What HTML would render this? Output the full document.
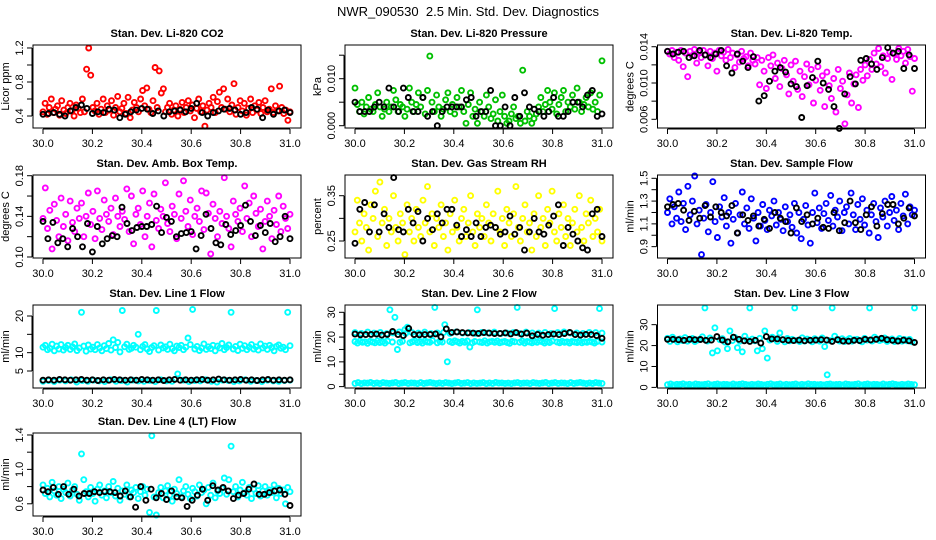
<!DOCTYPE html>
<html><head><meta charset="utf-8"><style>
body{margin:0;background:#fff;}
svg{display:block;font-family:"Liberation Sans",sans-serif;}
</style></head><body>
<svg id="chart" width="936" height="540" viewBox="0 0 936 540" xmlns="http://www.w3.org/2000/svg">
<rect width="936" height="540" fill="#fff"/>
<text x="468" y="16" text-anchor="middle" font-size="13">NWR_090530 &#160;2.5 Min. Std. Dev. Diagnostics</text>
</svg>
<script>
const xTicks=[30.0,30.2,30.4,30.6,30.8,31.0];
const co2Red=[0.45,0.55,0.42,0.5,0.6,0.44,0.48,0.52,0.41,0.58,0.47,0.43,0.5,0.55,0.46,0.4,0.53,0.49,0.44,0.6,0.45,0.95,1.2,0.88,0.5,0.46,0.55,0.42,0.48,0.6,0.44,0.52,0.47,0.58,0.41,0.5,0.63,0.45,0.49,0.55,0.43,0.62,0.38,0.47,0.56,0.5,0.45,0.6,0.7,0.52,0.73,0.48,0.44,0.58,0.97,0.5,0.93,0.67,0.72,0.45,0.5,0.55,0.42,0.47,0.52,0.4,0.48,0.56,0.44,0.5,0.58,0.46,0.53,0.38,0.49,0.6,0.45,0.52,0.28,0.47,0.55,0.5,0.62,0.44,0.57,0.68,0.5,0.72,0.48,0.6,0.45,0.53,0.78,0.42,0.5,0.58,0.46,0.55,0.41,0.49,0.6,0.44,0.52,0.47,0.56,0.43,0.5,0.58,0.45,0.48,0.72,0.44,0.52,0.46,0.75,0.5,0.43,0.47,0.35,0.45];
const co2Black=[0.42,0.43,0.44,0.42,0.4,0.46,0.5,0.53,0.49,0.43,0.45,0.44,0.48,0.47,0.38,0.42,0.45,0.47,0.49,0.48,0.43,0.46,0.4,0.45,0.46,0.47,0.45,0.49,0.55,0.44,0.4,0.44,0.46,0.48,0.49,0.47,0.42,0.44,0.5,0.48,0.38,0.47,0.42,0.46,0.47,0.44];
const presGreen=[0.008,0.0045,0.003,0.005,0.0025,0.004,0.006,0.0035,0.003,0.0045,0.007,0.004,0.002,0.0035,0.005,0.003,0.004,0.0075,0.0055,0.003,0.0045,0.004,0.002,0.0035,0.008,0.005,0.003,0.0045,0.007,0.004,0.006,0.0025,0.0075,0.0148,0.005,0.003,0.0065,0.004,0.002,0.0035,0.0055,0.007,0.003,0.0045,0.0025,0.006,0.004,0.0075,0.003,0.0005,0.0045,0.007,0.002,0.0035,0.0005,0.005,0.003,0.002,0.0065,0.004,0.0015,0.0025,0.0055,0.001,0.003,0.0065,0.002,0.0005,0.001,0.0025,0.004,0.0015,0.002,0.0005,0.0118,0.001,0.003,0.002,0.0005,0.0015,0.0025,0.004,0.006,0.003,0.0045,0.0075,0.005,0.0035,0.007,0.0025,0.0045,0.006,0.0075,0.003,0.005,0.004,0.0065,0.0035,0.008,0.005,0.003,0.0045,0.006,0.004,0.007,0.0035,0.005,0.003,0.0065,0.0138];
const presBlack=[0.005,0.003,0.003,0.003,0.004,0.005,0.004,0.008,0.004,0.003,0.008,0.006,0.003,0.003,0.006,0.002,0.003,0,0.003,0.004,0.004,0.004,0.004,0.0055,0.006,0.002,0.003,0.003,0.0075,0,0,0.004,0,0.006,0.002,0.007,0.004,0.0035,0.003,0.002,0.003,0.006,0.002,0.002,0.003,0.005,0.005,0.004,0.0065,0.0075,0.002,0.0025];
const tempMag=[0.0135,0.0132,0.0136,0.0128,0.0134,0.0125,0.0136,0.0118,0.0133,0.0107,0.0135,0.013,0.0137,0.0122,0.0134,0.0128,0.0136,0.0131,0.0119,0.0135,0.0127,0.0133,0.0113,0.0136,0.013,0.0134,0.0125,0.0137,0.0128,0.0133,0.0117,0.0131,0.0123,0.0135,0.0127,0.0129,0.0119,0.0133,0.0125,0.0121,0.0128,0.0098,0.0125,0.0113,0.0094,0.0128,0.0119,0.0131,0.0105,0.0122,0.0096,0.0116,0.0125,0.0109,0.0088,0.012,0.0102,0.0124,0.0093,0.0113,0.0085,0.0107,0.0121,0.0098,0.0115,0.0078,0.0103,0.0118,0.0092,0.0108,0.0074,0.0112,0.0097,0.0083,0.0105,0.0068,0.0115,0.0094,0.0102,0.0055,0.0087,0.0111,0.0078,0.0099,0.0109,0.0073,0.0115,0.0103,0.012,0.0108,0.0126,0.0115,0.0133,0.0121,0.0138,0.0118,0.013,0.0111,0.0127,0.0134,0.0104,0.0132,0.0126,0.0138,0.013,0.0135,0.0122,0.0137,0.0129,0.0091,0.0127];
const tempBlack=[0.0135,0.0132,0.0134,0.0135,0.0128,0.013,0.0136,0.0131,0.0128,0.0132,0.0136,0.0119,0.0111,0.0132,0.0124,0.0117,0.0129,0.008,0.0086,0.0102,0.0113,0.0117,0.0112,0.0099,0.0096,0.0062,0.0097,0.0106,0.0124,0.01,0.0093,0.0074,0.005,0.0088,0.0107,0.0099,0.0125,0.0127,0.0121,0.0115,0.0128,0.0139,0.0133,0.0135,0.0116,0.0131,0.0116];
const ambMag=[0.138,0.168,0.128,0.146,0.108,0.152,0.136,0.12,0.158,0.13,0.142,0.116,0.155,0.134,0.125,0.148,0.138,0.153,0.12,0.14,0.163,0.132,0.145,0.118,0.165,0.138,0.127,0.156,0.142,0.135,0.148,0.122,0.158,0.14,0.13,0.145,0.137,0.167,0.125,0.16,0.113,0.142,0.148,0.132,0.165,0.12,0.14,0.153,0.11,0.162,0.136,0.128,0.147,0.14,0.173,0.133,0.125,0.15,0.142,0.118,0.162,0.138,0.175,0.145,0.13,0.156,0.122,0.14,0.148,0.135,0.165,0.127,0.163,0.143,0.103,0.152,0.138,0.12,0.145,0.133,0.178,0.14,0.128,0.11,0.155,0.142,0.135,0.148,0.125,0.17,0.138,0.153,0.12,0.16,0.143,0.13,0.147,0.108,0.135,0.155,0.14,0.118,0.146,0.132,0.16,0.125,0.15,0.138,0.128,0.142];
const ambBlack=[0.135,0.118,0.134,0.114,0.118,0.11,0.128,0.12,0.11,0.133,0.105,0.13,0.113,0.118,0.121,0.12,0.149,0.133,0.126,0.129,0.13,0.13,0.132,0.15,0.124,0.139,0.135,0.12,0.123,0.124,0.125,0.108,0.121,0.142,0.128,0.114,0.112,0.132,0.122,0.126,0.131,0.151,0.135,0.121,0.131,0.124,0.133,0.115,0.12,0.14,0.118];
const rhYellow=[0.27,0.34,0.29,0.25,0.31,0.28,0.23,0.33,0.3,0.36,0.26,0.38,0.29,0.32,0.24,0.3,0.27,0.35,0.28,0.25,0.31,0.29,0.22,0.33,0.27,0.3,0.25,0.32,0.28,0.26,0.34,0.29,0.37,0.27,0.31,0.24,0.3,0.28,0.33,0.26,0.29,0.23,0.31,0.27,0.34,0.28,0.25,0.3,0.32,0.26,0.29,0.35,0.27,0.24,0.31,0.28,0.3,0.26,0.33,0.29,0.25,0.31,0.28,0.36,0.27,0.3,0.24,0.32,0.29,0.26,0.31,0.37,0.28,0.25,0.3,0.33,0.27,0.29,0.23,0.31,0.26,0.35,0.28,0.3,0.24,0.32,0.29,0.36,0.27,0.25,0.31,0.28,0.33,0.26,0.3,0.24,0.29,0.32,0.27,0.35,0.28,0.25,0.31,0.29,0.34,0.26,0.3,0.27,0.32,0.25];
const rhBlack=[0.245,0.32,0.335,0.27,0.33,0.27,0.31,0.28,0.39,0.275,0.27,0.32,0.29,0.315,0.25,0.3,0.275,0.31,0.29,0.32,0.32,0.285,0.26,0.275,0.26,0.29,0.26,0.28,0.285,0.28,0.265,0.27,0.305,0.265,0.28,0.23,0.27,0.3,0.27,0.265,0.285,0.305,0.33,0.24,0.28,0.265,0.25,0.235,0.23,0.31,0.32,0.26];
const flowBlue=[1.2,1.32,1.1,1.25,1.15,1.38,1.12,1.28,1.05,1.43,1.18,1.3,1.52,1.1,1.22,0.83,1.15,1.27,1.03,1.2,1.47,1.12,0.98,1.25,1.16,1.33,1.08,1.2,0.93,1.14,1.28,1.02,1.18,1.38,1.1,1.24,1.06,1.32,1.15,0.95,1.2,1.08,1.27,1.13,1.05,1.22,1.17,1.3,1.09,1.2,1.14,1.04,1.25,1.12,1.18,1.07,1.28,1.02,1.2,0.97,1.14,1.26,1.09,0.93,1.2,1.37,1.11,1.24,1.06,1.19,1.28,1.13,1.35,1.08,1.22,1.16,1.3,1.04,1.2,1.25,1.1,1.37,1.18,1.05,1.27,1.14,1.32,1.09,1.22,1.02,1.18,1.28,1.12,0.98,1.24,1.16,1.3,1.08,1.2,1.34,1.13,1.22,1.05,1.28,1.17,1.36,1.1,1.25,1.18,1.22];
const flowBlack=[1.25,1.27,1.28,1.22,1.13,1.21,1.15,1.26,1.16,1.25,1.2,1.17,1.26,1.02,1.18,1.13,1.17,1.08,1.14,1.06,1.2,1.15,1.12,1.02,1.24,1.12,1.18,1.1,1.15,1.07,1.06,1.2,1.04,1.11,1.3,1.11,1.05,1.18,1.25,1.08,1.19,1.27,1.27,1.1,1.15,1.24,1.17];
const line1Cyan=[11.5,12,10.8,11.2,12.3,10.5,11.8,11,12.2,10.7,11.4,12,10.9,11.6,12.4,10.6,11.3,21,11.8,10.4,12.1,11,11.5,10.8,12.2,11.3,10.5,11.9,11.1,12.5,10.7,13.5,11.4,12.8,10.2,21.5,11.6,12.3,10.9,11.2,12,11.5,15,10.8,11.7,12.2,11,10.3,11.4,11.9,21.5,10.7,12.1,11.3,11.6,10.9,12.3,11.1,10.5,11.8,11.4,12,10.8,11.5,14,12.2,21.8,11,11.7,10.6,11.3,12.4,10.9,11.6,11.1,12,10.5,11.8,11.3,12.5,10.8,11.4,12.1,21,11,11.7,10.6,12.3,11.2,11.9,10.8,11.5,12.2,11,11.6,10.7,12.4,11.3,11.8,10.9,12,11.4,10.5,11.7,12.1,11.2,11.5,10.8,21,11.9];
const line1CyanLow=[2.2,2.4,2.1,2.5,2.3,2.6,2.0,2.4,2.2,2.5,2.3,2.1,2.6,2.2,2.4,2.0,2.5,2.3,2.2,2.4,2.1,2.6,2.3,2.2,4.2,2.5,2.1,2.4,2.3,2.6,2.2,2.0,2.5,2.4,2.1,2.3,2.6,2.2,2.4,2.1,2.5,2.3,2.2,2.4,2.5];
const line1Black=[2.5,2.6,2.5,2.7,2.6,2.5,2.6,2.7,2.5,2.6,2.4,2.6,2.5,2.7,2.6,2.5,2.6,2.5,2.7,2.6,2.5,2.6,2.4,2.6,2.7,2.5,2.6,2.5,2.6,2.7,2.5,2.6,2.8,2.6,2.5,2.6,2.7,2.5,2.6,2.4,2.6,2.7,2.5,2.6,2.5,2.6];
const line2CyanHigh=[21.8,21.5,22,21.6,21.9,21.4,21.7,22.1,21.5,21.8,21.6,22,21.4,21.7,21.9,21.5,22.1,21.6,21.8,21.5,21.9,21.7,22,21.4,21.6,21.8,21.5,22,21.7,21.6,21.9,21.5,21.8,22.1,21.6,21.7,21.5,21.9,21.8,21.6];
const line2CyanMid=[18.2,17.6,18.4,17.9,18.1,17.5,18.3,18,17.7,18.5,17.8,18.2,17.6,18.4,31,18,28,15,17.9,18.3,23,24,17.7,18.1,18.5,17.8,18.2,17.6,18.4,18,17.9,18.6,32,17.7,18.3,18,25,10,18.2,17.8,18.5,18.1,17.6,18.3,17.9,18.4,16,17.7,18.2,31,18,17.8,18.5,17.6,18.1,18.3,17.9,18.4,17.7,18,18.2,17.8,17.5,18.3,18.1,32,17.9,18.4,17.6,18.2,18,17.7,18.3,17.9,18.5,18.1,17.6,18.2,17.8,18.4,31.5,18,17.7,18.3,17.9,18.1,17.6,18.2,18,17.8,18.4,17.7,18.1,17.9,18.3,18,17.6,18.2,31.5,18];
const line2CyanLow=[1.3,1.6,1.2,1.5,1.4,1.7,1.3,1.5,1.2,1.6,1.4,1.3,1.5,1.7,1.2,1.4,1.6,1.3,1.5,1.4,1.2,1.6,1.3,1.5,1.7,1.4,1.2,1.5,1.3,1.6,1.4,1.2,1.5,1.7,1.3,1.4,1.6,1.2,1.5,1.3,1.4,1.6,1.2,1.5,1.3,1.7,1.4,1.5,1.3,1.4,1.2,1.5,1.6,1.3,1.4,1.5,1.2,1.6,1.4,1.3,1.5,1.7,1.2,1.4,1.6,1.3,1.5,1.4,1.2,1.6,1.3,1.5,1.7,1.4,1.2,1.5,1.3,1.6,1.4,1.3];
const line2Black=[21.2,20.9,21,21.1,21.2,20.8,21.1,22.3,21,20.6,23.5,21,20.9,21,21.1,21.3,20.1,23.3,21.9,22.1,21.8,21.7,21.6,21.5,21.8,21.6,21.4,21.5,21.7,21.3,21.8,21.2,21.6,20.5,21.1,20.7,21,21.2,21,21.4,21.9,21,20.8,21.1,21,20.6,19.5];
const line3Cyan=[23.5,22,24,22.8,21.8,23.2,22.4,23.8,22.1,22.9,23.4,21.9,22.6,23,24.2,38,22.2,23.6,16.5,28.5,17.5,22.8,23.3,21.7,18.5,27,22.4,23.9,19,22.1,17,24.5,22.7,38,23.1,22.3,17.5,23.5,18.5,27,14,22.6,24,23.2,22,26,22.8,21.8,23.4,22.3,23,38,22.5,21.9,23.7,22.2,23.1,22.6,21.8,23.3,22.7,22.1,23.6,19.5,6,22.4,38,24.5,22.9,22.2,23.3,21.9,22.7,23.4,22.1,22.8,23,22.3,21.8,23.5,22.6,38,22.2,24,23.1,22.4,22.8,23.6,22,22.7,23.2,21.9,22.5,23.4,22.1,22.9,22.3,23,21.8,38];
const line3CyanLow=[1.3,1.6,1.2,1.5,1.4,1.7,1.3,1.5,1.2,1.6,1.4,1.3,1.5,1.7,1.2,1.4,1.6,1.3,1.5,1.4,1.2,1.6,1.3,1.5,1.7,1.4,1.2,1.5,1.3,1.6,1.4,1.2,1.5,1.7,1.3,1.4,1.6,1.2,1.5,1.3,1.4,1.6,1.2,1.5,1.3,1.7,1.4,1.5,1.3,1.4,1.2,1.5,1.6,1.3,1.4,1.5,1.2,1.6,1.4,1.3,1.5,1.7,1.2,1.4,1.6,1.3,1.5,1.4,1.2,1.6,1.3,1.5,1.7,1.4,1.2,1.5,1.3,1.6,1.4,1.3];
const line3Black=[23,23,22.8,22.5,23,22.8,22.9,22.5,22.6,24.3,22.6,21.8,24,23,22.3,22,22.5,21.2,24.3,23.2,23.2,22.8,22.5,22.4,22.6,22.3,22.5,22.6,22.8,22.6,22,22.8,22.2,22.1,22.5,22.4,23,22.7,23,23.5,22.8,22.5,22.2,22.6,22.3,21.5];
const line4Cyan=[0.82,0.72,0.78,0.68,0.85,0.75,0.7,0.8,0.66,0.77,0.73,0.84,0.69,0.76,0.8,0.71,0.64,1.18,0.88,0.74,0.68,0.79,0.72,0.63,0.77,0.82,0.7,0.75,0.67,0.8,0.73,0.86,0.69,0.78,0.64,0.75,0.71,0.82,0.68,0.76,0.73,0.79,0.66,0.74,0.8,0.7,0.77,0.5,1.39,0.68,0.47,0.73,0.79,0.67,0.75,0.81,0.7,0.63,0.77,0.72,0.88,0.68,0.75,0.8,0.71,0.66,0.78,0.74,0.69,0.82,0.73,0.76,0.6,0.79,0.7,0.84,0.67,0.75,0.72,0.78,0.9,0.71,0.88,1.27,0.74,0.8,0.68,0.76,0.85,0.73,0.7,0.79,0.66,0.77,0.72,0.81,0.69,0.75,0.8,0.7,0.76,0.73,0.82,0.67,0.78,0.72,0.76,0.6,0.79,0.74];
const line4Black=[0.76,0.74,0.79,0.71,0.8,0.71,0.77,0.69,0.72,0.72,0.74,0.73,0.74,0.74,0.73,0.69,0.75,0.68,0.56,0.8,0.64,0.77,0.67,0.72,0.65,0.75,0.68,0.67,0.57,0.64,0.7,0.77,0.64,0.81,0.76,0.79,0.75,0.66,0.7,0.72,0.77,0.83,0.71,0.71,0.73,0.75,0.76,0.71,0.58];
const ticksCo2=[0.4,0.6,0.8,1.0,1.2], labelsCo2=["0.4","","0.8","","1.2"];
const ticksPres=[0,0.005,0.01,0.015], labelsPres=["0.000","","0.010",""];
const ticksTemp=[0.006,0.008,0.01,0.012,0.014], labelsTemp=["0.006","","0.010","","0.014"];
const ticksAmb=[0.10,0.12,0.14,0.16,0.18], labelsAmb=["0.10","","0.14","","0.18"];
const ticksRh=[0.25,0.30,0.35], labelsRh=["0.25","","0.35"];
const ticksFlow=[0.9,1.0,1.1,1.2,1.3,1.4,1.5], labelsFlow=["0.9","","1.1","","1.3","","1.5"];
const ticksL1=[5,10,15,20], labelsL1=["5","10","","20"];
const ticksL2=[0,5,10,15,20,25,30], labelsL2=["0","","10","","20","","30"];
const ticksL3=[0,10,20,30], labelsL3=["0","10","20","30"];
const ticksL4=[0.6,0.8,1.0,1.2,1.4], labelsL4=["0.6","","1.0","","1.4"];

const NS="http://www.w3.org/2000/svg";
const svg=document.getElementById('chart');
function mk(tag,attrs,parent){const e=document.createElementNS(NS,tag);for(const k in attrs)e.setAttribute(k,attrs[k]);(parent||svg).appendChild(e);return e;}
const colLeft=[33,345,657.5], rowTop=[45,175,305,433], BW=268, BH=83;
const panels=[
 {name:'co2',title:'Stan. Dev. Li-820 CO2',ylab:'Licor ppm',c:0,r:0,yd:[0.259,1.235],ticks:ticksCo2,labels:labelsCo2,series:[[co2Red,'#ff0000'],[co2Black,'#000']]},
 {name:'pressure',title:'Stan. Dev. Li-820 Pressure',ylab:'kPa',c:1,r:0,yd:[-0.00049,0.01717],ticks:ticksPres,labels:labelsPres,series:[[presGreen,'#00c000'],[presBlack,'#000']]},
 {name:'li820-temp',title:'Stan. Dev. Li-820 Temp.',ylab:'degrees C',c:2,r:0,yd:[0.00504,0.01419],ticks:ticksTemp,labels:labelsTemp,series:[[tempMag,'#ff00ff'],[tempBlack,'#000']]},
 {name:'amb-box-temp',title:'Stan. Dev. Amb. Box Temp.',ylab:'degrees C',c:0,r:1,yd:[0.099,0.1807],ticks:ticksAmb,labels:labelsAmb,series:[[ambMag,'#ff00ff'],[ambBlack,'#000']]},
 {name:'gas-stream-rh',title:'Stan. Dev. Gas Stream RH',ylab:'percent',c:1,r:1,yd:[0.2125,0.3957],ticks:ticksRh,labels:labelsRh,series:[[rhYellow,'#ffff00'],[rhBlack,'#000']]},
 {name:'sample-flow',title:'Stan. Dev. Sample Flow',ylab:'ml/min',c:2,r:1,yd:[0.8003,1.529],ticks:ticksFlow,labels:labelsFlow,series:[[flowBlue,'#0000ff'],[flowBlack,'#000']]},
 {name:'line1-flow',title:'Stan. Dev. Line 1 Flow',ylab:'ml/min',c:0,r:2,yd:[0.365,23.0],ticks:ticksL1,labels:labelsL1,series:[[line1Cyan,'#00ffff'],[line1CyanLow,'#00ffff'],[line1Black,'#000']]},
 {name:'line2-flow',title:'Stan. Dev. Line 2 Flow',ylab:'ml/min',c:1,r:2,yd:[-0.56,32.95],ticks:ticksL2,labels:labelsL2,series:[[line2CyanHigh,'#00ffff'],[line2CyanMid,'#00ffff'],[line2CyanLow,'#00ffff'],[line2Black,'#000']]},
 {name:'line3-flow',title:'Stan. Dev. Line 3 Flow',ylab:'ml/min',c:2,r:2,yd:[-0.29,39.4],ticks:ticksL3,labels:labelsL3,series:[[line3Cyan,'#00ffff'],[line3CyanLow,'#00ffff'],[line3Black,'#000']]},
 {name:'line4-flow',title:'Stan. Dev. Line 4 (LT) Flow',ylab:'ml/min',c:0,r:3,yd:[0.458,1.423],ticks:ticksL4,labels:labelsL4,series:[[line4Cyan,'#00ffff'],[line4Black,'#000']]}
];
panels.forEach(p=>{
 const L=colLeft[p.c], T=rowTop[p.r], B=T+BH;
 const x0=L+10, xs=247;
 const X=v=>x0+(v-30)*xs;
 const Y=v=>B-(v-p.yd[0])/(p.yd[1]-p.yd[0])*BH;
 const g=mk('g',{});
 
 
 const t=mk('text',{x:L+BW/2,y:T-8,'text-anchor':'middle','font-size':'11','font-weight':'bold'},g);
 t.textContent=p.title;
 
 
 const yl=mk('text',{transform:`translate(${L-24},${T+BH/2}) rotate(-90)`,'text-anchor':'middle','font-size':'11'},g);
 yl.textContent=p.ylab;
 
 
 p.series.forEach((s,si)=>{
  const vals=s[0], n=vals.length;
  const sg=mk('g',{fill:'none',stroke:s[1],'stroke-width':'1.9'},g);
  
  
  vals.forEach((v,i)=>{
   const xv=30+(n>1? i/(n-1):0);
   const c=mk('circle',{cx:X(xv).toFixed(1),cy:Y(v).toFixed(1),r:'2.5'},sg);
   
   
  });
 });
 const box=mk('rect',{x:L,y:T,width:BW,height:BH,fill:'none',stroke:'#000','stroke-width':'1'},g);
 
 
 const xa=mk('g',{stroke:'#000','stroke-width':'1'},g);
 
 
 mk('line',{x1:X(xTicks[0]),x2:X(xTicks[xTicks.length-1]),y1:B+1,y2:B+1},xa);
 xTicks.forEach(v=>{
  mk('line',{x1:X(v),x2:X(v),y1:B+1,y2:B+6},xa);
  const tl=mk('text',{x:X(v),y:B+19,'text-anchor':'middle','font-size':'11',stroke:'none',fill:'#000'},xa);
  tl.textContent=v.toFixed(1);
  
  
 });
 const ya=mk('g',{stroke:'#000','stroke-width':'1'},g);
 
 
 mk('line',{x1:L-1,x2:L-1,y1:Y(p.ticks[0]),y2:Y(p.ticks[p.ticks.length-1])},ya);
 p.ticks.forEach((v,i)=>{
  mk('line',{x1:L-1,x2:L-6,y1:Y(v),y2:Y(v)},ya);
  if(p.labels[i]){
   const tl=mk('text',{transform:`translate(${L-10},${Y(v)}) rotate(-90)`,'text-anchor':'middle','font-size':'11',stroke:'none',fill:'#000'},ya);
   tl.textContent=p.labels[i];
   
   
  }
 });
});
</script>
</body></html>
